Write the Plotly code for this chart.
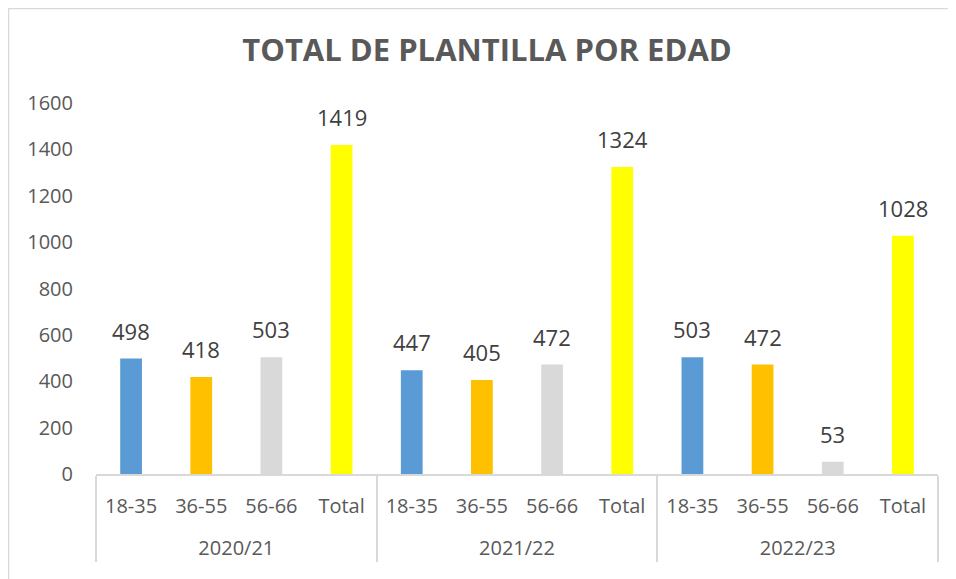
import plotly.graph_objects as go

years = ["2020/21"] * 4 + ["2021/22"] * 4 + ["2022/23"] * 4
ages = ["18-35", "36-55", "56-66", "Total"] * 3
values = [498, 418, 503, 1419, 447, 405, 472, 1324, 503, 472, 53, 1028]
palette = {"18-35": "#5B9BD5", "36-55": "#FFC000", "56-66": "#D9D9D9", "Total": "#FFFF00"}
colors = [palette[a] for a in ages]

year_labels = ["<br>" + y for y in years]

fig = go.Figure(go.Bar(
    x=[year_labels, ages],
    y=values,
    width=0.31,
    marker=dict(color=colors, line=dict(width=0)),
    hoverinfo="x+y",
))

for i, v in enumerate(values):
    fig.add_annotation(
        x=i, y=v, xref="x", yref="y", text=str(v), showarrow=False,
        yanchor="bottom", yshift=11,
        font=dict(family="Open Sans, Liberation Sans, sans-serif", size=22, color="#404040"),
    )

# page body has an 8px offset; compensate
OFF = 8
W, H = 956 - OFF, 579 - OFF
PL, PR, PT, PB = 96 - OFF, 18, 103 - OFF, 105
pw = W - PL - PR
ph = H - PT - PB
def px(x):
    return (x - OFF - PL) / pw
def py(y):
    return (H - PB - (y - OFF)) / ph

fig.update_layout(
    width=W, height=H,
    margin=dict(l=PL, r=PR, t=PT, b=PB, autoexpand=False),
    paper_bgcolor="white", plot_bgcolor="white",
    showlegend=False,
    title=dict(
        text="<b>TOTAL DE PLANTILLA POR EDAD</b>",
        x=(487 - OFF) / W, xanchor="center", xref="container",
        y=1 - (50 - OFF) / H, yanchor="middle", yref="container",
        font=dict(family="Liberation Sans Narrow, Open Sans, sans-serif", size=31, color="#595959"),
    ),
    font=dict(family="Open Sans, Liberation Sans, sans-serif", color="#595959"),
    shapes=[
        dict(type="line", xref="paper", yref="paper", x0=px(8), x1=px(980), y0=py(8.5), y1=py(8.5),
             line=dict(color="#D9D9D9", width=1.5)),
        dict(type="line", xref="paper", yref="paper", x0=px(8.5), x1=px(8.5), y0=py(8), y1=py(600),
             line=dict(color="#D9D9D9", width=1.5)),
    ],
)
fig.update_yaxes(
    range=[0, 1600], dtick=200, showgrid=False, zeroline=False, showline=False,
    tickfont=dict(size=20, color="#595959"), ticks="", ticklabelstandoff=22,
)
fig.update_xaxes(
    showline=True, linecolor="#D9D9D9", linewidth=1.5,
    showdividers=True, dividercolor="#D9D9D9", dividerwidth=1.5,
    tickfont=dict(size=20, color="#595959"), ticks="", ticklabelstandoff=13,
)

fig.write_html("out.html")
